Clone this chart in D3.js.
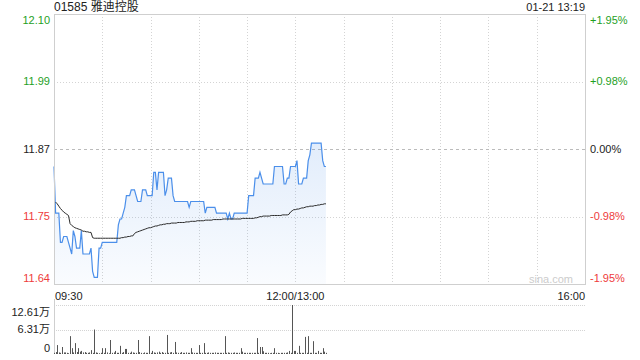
<!DOCTYPE html>
<html>
  <head>
    <title>01585 雅迪控股</title>
    <script src="https://d3js.org/d3.v7.min.js"></script>
    <style>
      body { margin: 0; background-color: white; }
      text { font-family: "Liberation Sans", Arial, "Noto Sans CJK SC", sans-serif; }
    </style>
  </head>
  <body>
    <svg id="canvas" width="640" height="360"></svg>

    <script>
      const stockName = '01585 雅迪控股'
      const stamp = '01-21 13:19'
      const prevClose = 11.87
      const pctRange = 0.0195

      const priceTicks = ['12.10', '11.99', '11.87', '11.75', '11.64']
      const pctTicks = ['+1.95%', '+0.98%', '0.00%', '-0.98%', '-1.95%']
      const timeTicks = ['09:30', '12:00/13:00', '16:00']
      const volTicks = ['12.61万', '6.31万', '0']
      const volMax = 126100

      // one value per minute, 09:30 .. 12:00 then 13:01 .. 13:19
      const prices = [
        11.84, 11.76, 11.76, 11.76, 11.71, 11.71, 11.72, 11.72, 11.72, 11.71,
        11.70, 11.69, 11.73, 11.72, 11.70, 11.70, 11.70, 11.73, 11.69, 11.69,
        11.69, 11.69, 11.69, 11.70, 11.66, 11.65, 11.65, 11.65, 11.70, 11.70,
        11.71, 11.71, 11.71, 11.71, 11.71, 11.71, 11.71, 11.71, 11.71, 11.71,
        11.74, 11.75, 11.75, 11.76, 11.77, 11.79, 11.79, 11.79, 11.80, 11.80,
        11.80, 11.79, 11.78, 11.78, 11.78, 11.80, 11.80, 11.80, 11.79, 11.79,
        11.79, 11.79, 11.83, 11.83, 11.80, 11.83, 11.83, 11.83, 11.83, 11.79,
        11.80, 11.82, 11.82, 11.82, 11.79, 11.78, 11.78, 11.78, 11.78, 11.78,
        11.78, 11.78, 11.78, 11.78, 11.77, 11.78, 11.78, 11.78, 11.78, 11.78,
        11.78, 11.78, 11.78, 11.78, 11.76, 11.77, 11.77, 11.77, 11.77, 11.77,
        11.77, 11.76, 11.76, 11.76, 11.76, 11.76, 11.76, 11.76, 11.75, 11.76,
        11.75, 11.75, 11.76, 11.76, 11.76, 11.76, 11.76, 11.76, 11.76, 11.76,
        11.76, 11.79, 11.79, 11.79, 11.79, 11.82, 11.82, 11.82, 11.83, 11.82,
        11.81, 11.81, 11.81, 11.81, 11.81, 11.81, 11.81, 11.84, 11.84, 11.84,
        11.84, 11.84, 11.84, 11.81, 11.81, 11.82, 11.82, 11.84, 11.84, 11.84,
        11.84, 11.85, 11.81, 11.81, 11.81, 11.82, 11.82, 11.82, 11.85, 11.86,
        11.88, 11.88, 11.88, 11.88, 11.88, 11.88, 11.88, 11.85, 11.84, 11.84
      ]

      const avgPrices = [
        null, 11.779, 11.776, 11.772, 11.768, 11.765, 11.762, 11.760, 11.758, 11.756,
        11.742, 11.739, 11.737, 11.735, 11.734, 11.733, 11.732, 11.731, 11.729, 11.729,
        11.728, 11.728, 11.727, 11.727, 11.718, 11.717, 11.717, 11.717, 11.717, 11.717,
        11.717, 11.717, 11.717, 11.717, 11.717, 11.717, 11.717, 11.717, 11.717, 11.717,
        11.717, 11.717, 11.718, 11.718, 11.719, 11.719, 11.720, 11.720, 11.721, 11.721,
        11.725, 11.727, 11.728, 11.729, 11.730, 11.731, 11.732, 11.733, 11.734, 11.735,
        11.735, 11.736, 11.737, 11.738, 11.738, 11.739, 11.740, 11.740, 11.741, 11.741,
        11.742, 11.742, 11.742, 11.743, 11.743, 11.743, 11.743, 11.744, 11.744, 11.744,
        11.744, 11.744, 11.745, 11.745, 11.745, 11.746, 11.746, 11.746, 11.746, 11.747,
        11.747, 11.747, 11.747, 11.747, 11.748, 11.748, 11.748, 11.748, 11.748, 11.749,
        11.749, 11.749, 11.749, 11.749, 11.749, 11.750, 11.750, 11.750, 11.750, 11.750,
        11.750, 11.750, 11.750, 11.750, 11.750, 11.750, 11.750, 11.751, 11.751, 11.751,
        11.751, 11.751, 11.751, 11.751, 11.751, 11.752, 11.752, 11.753, 11.754, 11.754,
        11.755, 11.755, 11.755, 11.755, 11.755, 11.756, 11.756, 11.756, 11.756, 11.756,
        11.756, 11.756, 11.757, 11.757, 11.757, 11.757, 11.758, 11.762, 11.764, 11.766,
        11.766, 11.767, 11.767, 11.768, 11.769, 11.769, 11.770, 11.771, 11.771, 11.772,
        11.772, 11.772, 11.773, 11.773, 11.774, 11.774, 11.775, 11.775, 11.776, 11.776
      ]

      const volumes = [
        3000, 5000, 23000, 4000, 3000, 18000, 4000, 4000, 3000, 2000,
        46000, 15000, 4000, 28000, 5000, 15000, 6000, 8000, 4000, 5000,
        3000, 3000, 4000, 10000, 3000, 63000, 4000, 3000, 2000, 3000,
        15000, 3000, 15000, 4000, 2000, 36000, 3000, 4000, 8000, 3000,
        3000, 21000, 3000, 5000, 13000, 13000, 3000, 3000, 6000, 4000,
        3000, 3000, 36000, 5000, 3000, 2000, 4000, 3000, 3000, 46000,
        3000, 8000, 4000, 3000, 4000, 6000, 3000, 5000, 3000, 3000,
        49000, 3000, 4000, 5000, 3000, 31000, 4000, 3000, 3000, 5000,
        3000, 3000, 4000, 3000, 3000, 15000, 4000, 3000, 3000, 3000,
        23000, 3000, 3000, 28000, 3000, 3000, 4000, 3000, 3000, 3000,
        4000, 3000, 3000, 3000, 3000, 3000, 46000, 3000, 4000, 3000,
        3000, 3000, 4000, 3000, 3000, 3000, 15000, 6000, 3000, 3000,
        3000, 3000, 3000, 3000, 3000, 3000, 41000, 3000, 18000, 18000,
        7000, 3000, 3000, 3000, 2000, 3000, 3000, 15000, 3000, 3000,
        2000, 3000, 3000, 3000, 3000, 4000, 8000, 3000, 126100, 8000,
        8000, 3000, 21000, 3000, 3000, 3000, 44000, 3000, 46000, 3000,
        3000, 33000, 3000, 3000, 8000, 3000, 3000, 15000, 6000, 3000
      ]

      const svg = d3.select('#canvas')
      const plotLeft = 54
      const plotRight = 585
      const plotTop = 14
      const plotBottom = 284
      const volTop = 305
      const volBottom = 354

      const green = '#1f9f1f'
      const red = '#ee3b3b'
      const gridColor = '#d4d4d4'

      const x = d3.scaleLinear().domain([0, 330]).range([plotLeft, plotRight])
      const y = d3.scaleLinear()
        .domain([prevClose * (1 - pctRange), prevClose * (1 + pctRange)])
        .range([plotBottom, plotTop])
      const yv = d3.scaleLinear().domain([0, volMax]).range([volBottom, volTop])

      // title
      svg.append('text')
        .attr('x', plotLeft).attr('y', 11)
        .attr('font-size', 12).attr('fill', '#222')
        .text(stockName)
      svg.append('text')
        .attr('x', plotRight).attr('y', 11)
        .attr('text-anchor', 'end')
        .attr('font-size', 11).attr('fill', '#222')
        .text(stamp)

      // vertical grid every 30 minutes
      const g = svg.append('g')
      g.selectAll('line.vgrid').data(d3.range(30, 330, 30)).enter()
        .append('line').classed('vgrid', true)
        .attr('x1', d => Math.round(x(d)) + 0.5).attr('x2', d => Math.round(x(d)) + 0.5)
        .attr('y1', plotTop).attr('y2', plotBottom)
        .attr('stroke', gridColor).attr('stroke-dasharray', '1,2')

      // horizontal grid
      const tickVals = priceTicks.map((t, i) => y.domain()[1] - i * (y.domain()[1] - y.domain()[0]) / 4)
      g.selectAll('line.hgrid').data(tickVals.slice(1, 4)).enter()
        .append('line').classed('hgrid', true)
        .attr('x1', plotLeft).attr('x2', plotRight)
        .attr('y1', d => Math.round(y(d)) + 0.5).attr('y2', d => Math.round(y(d)) + 0.5)
        .attr('stroke', (d, i) => i === 1 ? '#bbb' : gridColor)
        .attr('stroke-dasharray', (d, i) => i === 1 ? '3,3' : '1,2')

      // price area and lines
      const defs = svg.append('defs')
      const grad = defs.append('linearGradient')
        .attr('id', 'areaFill').attr('x1', 0).attr('x2', 0).attr('y1', 0).attr('y2', 1)
      grad.append('stop').attr('offset', '0%').attr('stop-color', '#4a8ee8').attr('stop-opacity', 0.16)
      grad.append('stop').attr('offset', '100%').attr('stop-color', '#4a8ee8').attr('stop-opacity', 0.03)

      const area = d3.area()
        .x((d, i) => x(i))
        .y0(plotBottom)
        .y1(d => y(d))
      g.append('path')
        .datum(prices)
        .attr('d', area)
        .attr('fill', 'url(#areaFill)')

      const line = d3.line()
        .x((d, i) => x(i))
        .y(d => y(d))
      g.append('path')
        .datum(prices)
        .attr('d', line)
        .attr('fill', 'none')
        .attr('stroke', '#4b8fea')
        .attr('stroke-width', 1.2)

      const avgLine = d3.line()
        .defined(d => d !== null)
        .x((d, i) => x(i))
        .y(d => y(d))
      g.append('path')
        .datum(avgPrices)
        .attr('d', avgLine)
        .attr('fill', 'none')
        .attr('stroke', '#2b2b2b')
        .attr('stroke-width', 1)

      // frame
      g.append('rect')
        .attr('x', plotLeft + 0.5).attr('y', plotTop + 0.5)
        .attr('width', plotRight - plotLeft).attr('height', plotBottom - plotTop)
        .attr('fill', 'none').attr('stroke', '#cfcfcf')

      // watermark
      svg.append('text')
        .attr('x', 573).attr('y', 283)
        .attr('text-anchor', 'end')
        .attr('font-size', 11).attr('fill', '#cccccc')
        .text('sina.com')

      // price labels
      const labelColor = i => i < 2 ? green : (i === 2 ? '#222' : red)
      const labelShift = i => i === 0 ? 6 : (i === 4 ? -6 : 0)
      svg.selectAll('text.price').data(priceTicks).enter()
        .append('text').classed('price', true)
        .attr('x', 50)
        .attr('y', (d, i) => y(tickVals[i]) + labelShift(i))
        .attr('dy', '0.35em')
        .attr('text-anchor', 'end')
        .attr('font-size', 11)
        .attr('fill', (d, i) => labelColor(i))
        .text(d => d)
      svg.selectAll('text.pct').data(pctTicks).enter()
        .append('text').classed('pct', true)
        .attr('x', 590)
        .attr('y', (d, i) => y(tickVals[i]) + labelShift(i))
        .attr('dy', '0.35em')
        .attr('font-size', 11)
        .attr('fill', (d, i) => labelColor(i))
        .text(d => d)

      // time labels
      const timePos = [0, 150, 330]
      const timeAnchor = ['start', 'middle', 'end']
      svg.selectAll('text.time').data(timeTicks).enter()
        .append('text').classed('time', true)
        .attr('x', (d, i) => x(timePos[i]) + (i === 0 ? 1 : 0))
        .attr('y', 296)
        .attr('dy', '0.35em')
        .attr('text-anchor', (d, i) => timeAnchor[i])
        .attr('font-size', 11)
        .attr('fill', '#222')
        .text(d => d)

      // volume panel
      const v = svg.append('g')
      v.selectAll('line.vgrid').data([volMax, volMax / 2]).enter()
        .append('line').classed('vgrid', true)
        .attr('x1', plotLeft).attr('x2', plotRight)
        .attr('y1', d => Math.round(yv(d)) + 0.5).attr('y2', d => Math.round(yv(d)) + 0.5)
        .attr('stroke', gridColor).attr('stroke-dasharray', '1,1')
      v.append('line')
        .attr('x1', plotLeft + 0.5).attr('x2', plotLeft + 0.5)
        .attr('y1', volTop - 6).attr('y2', volBottom)
        .attr('stroke', '#cfcfcf')

      v.selectAll('line.bar').data(volumes).enter()
        .append('line').classed('bar', true)
        .attr('x1', (d, i) => Math.round(x(i)) + 0.5)
        .attr('x2', (d, i) => Math.round(x(i)) + 0.5)
        .attr('y1', volBottom)
        .attr('y2', d => yv(d))
        .attr('stroke', '#555')
        .attr('stroke-width', 1)

      const volShift = [7, 0, -6]
      svg.selectAll('text.vol').data(volTicks).enter()
        .append('text').classed('vol', true)
        .attr('x', 50)
        .attr('y', (d, i) => yv(volMax - i * volMax / 2) + volShift[i])
        .attr('dy', '0.35em')
        .attr('text-anchor', 'end')
        .attr('font-size', 11)
        .attr('fill', '#222')
        .text(d => d)
    </script>
  </body>
</html>
